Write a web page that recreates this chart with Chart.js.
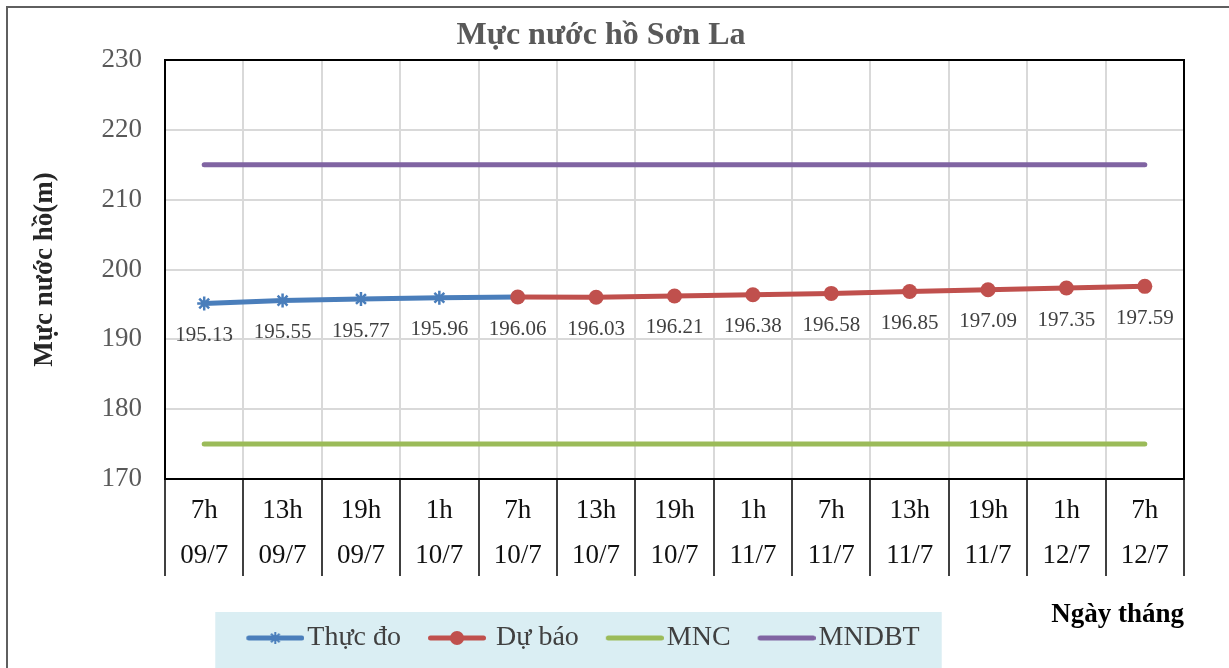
<!DOCTYPE html>
<html><head><meta charset="utf-8">
<script src="https://cdn.jsdelivr.net/npm/chart.js@4/dist/chart.umd.min.js"></script>
<style>
html,body{margin:0;padding:0;background:#fff;overflow:hidden;}
#frame{position:absolute;left:6px;top:6px;width:1221px;height:660px;border-top:2px solid #5f5f5f;border-left:2px solid #5f5f5f;}
#c{position:absolute;left:0;top:0;}
</style></head><body>
<div id="frame"></div>
<canvas id="c" width="1229" height="668"></canvas>
<script>
const hours = ['7h','13h','19h','1h','7h','13h','19h','1h','7h','13h','19h','1h','7h'];
const dates = ['09/7','09/7','09/7','10/7','10/7','10/7','10/7','11/7','11/7','11/7','11/7','12/7','12/7'];
const thucDo = [195.13,195.55,195.77,195.96,196.06,null,null,null,null,null,null,null,null];
const duBao = [null,null,null,null,196.06,196.03,196.21,196.38,196.58,196.85,197.09,197.35,197.59];
const mnc = [175,175,175,175,175,175,175,175,175,175,175,175,175];
const mndbt = [215,215,215,215,215,215,215,215,215,215,215,215,215];
const yMin = 170, yMax = 230, yStep = 10;

const SERIF = '"Liberation Serif", "Times New Roman", serif';
const BLUE = '#4A7EBB', RED = '#C0504D', GREEN = '#9BBB59', PURPLE = '#8064A2';

function legendIcon(color, style){
  const cv = document.createElement('canvas'); cv.width = 89; cv.height = 20;
  const g = cv.getContext('2d');
  g.strokeStyle = color; g.lineWidth = 5; g.lineCap = 'round';
  g.beginPath(); g.moveTo(33.5,10); g.lineTo(86.5,10); g.stroke();
  const cx = 60, cy = 10;
  if (style === 'star') {
    g.lineWidth = 2; g.lineCap = 'butt';
    const r = 6;
    g.beginPath();
    g.moveTo(cx, cy-r); g.lineTo(cx, cy+r);
    g.moveTo(cx-r, cy); g.lineTo(cx+r, cy);
    const d = r*0.707;
    g.moveTo(cx-d, cy-d); g.lineTo(cx+d, cy+d);
    g.moveTo(cx-d, cy+d); g.lineTo(cx+d, cy-d);
    g.stroke();
  } else if (style === 'circle') {
    g.fillStyle = color; g.beginPath(); g.arc(cx, cy, 7, 0, Math.PI*2); g.fill();
  }
  return cv;
}
const icons = [legendIcon(BLUE,'star'), legendIcon(RED,'circle'), legendIcon(GREEN,null), legendIcon(PURPLE,null)];

const LEGEND_DX = -28;

const framePlugin = {
  id: 'framePlugin',
  afterLayout(chart){
    if (chart.legend) { chart.legend.left += LEGEND_DX; chart.legend.right += LEGEND_DX; }
  },
  beforeDraw(chart){
    const lg = chart.legend; if (!lg || !lg.lineWidths) return;
    const pad = lg.options.labels.padding;
    const lw = lg.lineWidths[0];
    const startX = (lg.left + pad + lg.right - lw) / 2;
    const g = chart.ctx; g.save();
    g.fillStyle = '#DAEEF3';
    g.fillRect(startX - 11, lg.top - 5, lw - pad + 33, chart.height - lg.top + 5);
    g.restore();
  },
  beforeDatasetsDraw(chart){
    const a = chart.chartArea, g = chart.ctx; g.save();
    g.strokeStyle = '#000'; g.lineWidth = 2;
    g.beginPath(); g.moveTo(a.left, a.top); g.lineTo(a.right, a.top); g.lineTo(a.right, a.bottom); g.stroke();
    g.restore();
  },
  afterDatasetsDraw(chart){
    const g = chart.ctx; g.save();
    g.font = '21px ' + SERIF; g.fillStyle = '#404040'; g.textAlign = 'center'; g.textBaseline = 'middle';
    [0,1].forEach(di => {
      const meta = chart.getDatasetMeta(di);
      chart.data.datasets[di].data.forEach((v,i) => {
        if (v == null) return;
        if (di === 0 && duBao[i] != null) return;
        const p = meta.data[i];
        g.fillText(v.toFixed(2), p.x, p.y + 32);
      });
    });
    g.restore();
  }
};

new Chart(document.getElementById('c'), {
  type: 'line',
  data: {
    labels: hours.map((h,i) => [h, dates[i]]),
    datasets: [
      {label:'Thực đo', data:thucDo, borderColor:BLUE, backgroundColor:BLUE, borderWidth:5, tension:0,
       pointStyle:'star', pointRadius:7, pointBorderWidth:2.5, pointBorderColor:BLUE, pointBackgroundColor:BLUE, order:1},
      {label:' Dự báo', data:duBao, borderColor:RED, backgroundColor:RED, borderWidth:5, tension:0,
       pointStyle:'circle', pointRadius:7.5, pointBorderWidth:0, pointBackgroundColor:RED, order:0},
      {label:'MNC', data:mnc, borderColor:GREEN, backgroundColor:GREEN, borderWidth:5, pointRadius:0, borderCapStyle:'round', order:2},
      {label:'MNDBT', data:mndbt, borderColor:PURPLE, backgroundColor:PURPLE, borderWidth:5, pointRadius:0, borderCapStyle:'round', order:3}
    ]
  },
  options: {
    responsive:false, animation:false, devicePixelRatio:1, events:[],
    layout:{padding:{left:18, right:45, top:0, bottom:6}},
    plugins:{
      title:{display:true, text:'Mực nước hồ Sơn La', color:'#595959',
        font:{family:SERIF, size:32, weight:'bold', lineHeight:1.2}, padding:{top:17, bottom:4.6}},
      legend:{position:'bottom', labels:{usePointStyle:true, pointStyleWidth:67, padding:7, color:'#404040',
        font:{family:SERIF, size:28},
        generateLabels(chart){
          return chart.data.datasets.map((ds,i) => ({text:ds.label, pointStyle:icons[i], fillStyle:'rgba(0,0,0,0)',
            strokeStyle:'rgba(0,0,0,0)', lineWidth:0, hidden:false, datasetIndex:i, fontColor:'#404040'}));
        }}},
      tooltip:{enabled:false}
    },
    scales:{
      x:{offset:true,
        grid:{offset:true, color:'#d9d9d9', lineWidth:2, drawTicks:true, tickLength:97, tickColor:'#000', tickWidth:1.5},
        border:{color:'#000', width:2},
        ticks:{color:'#111', font:{family:SERIF, size:27, lineHeight:45/27}, padding:-87.5, autoSkip:false, maxRotation:0, minRotation:0},
        title:{display:true, text:'Ngày tháng', align:'end', color:'#000',
          font:{family:SERIF, size:27, weight:'bold', lineHeight:1.2}, padding:{top:0, bottom:-14}},
        afterFit(s){ s.height = 138; }
      },
      y:{min:yMin, max:yMax,
        ticks:{stepSize:yStep, color:'#595959', font:{family:SERIF, size:27}, padding:23},
        grid:{color:'#d9d9d9', lineWidth:2, drawTicks:false},
        border:{color:'#000', width:2},
        title:{display:true, text:'Mực nước hồ(m)', color:'#262626',
          font:{family:SERIF, size:27, weight:'bold', lineHeight:1.2}, padding:{top:11, bottom:10}},
        afterFit(s){ s.width = 147; }
      }
    }
  },
  plugins:[framePlugin]
});
</script>
</body></html>
